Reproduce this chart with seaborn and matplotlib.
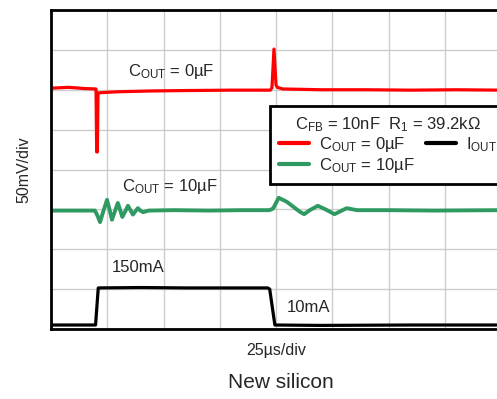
import pandas as pd
import matplotlib
matplotlib.use('Agg')
import matplotlib.pyplot as plt
import seaborn as sns

sns.set_style('whitegrid')
plt.rcParams['font.family'] = ['Liberation Sans', 'DejaVu Sans']
plt.rcParams['mathtext.fontset'] = 'custom'
plt.rcParams['mathtext.rm'] = 'Liberation Sans'
plt.rcParams['mathtext.it'] = 'Liberation Sans:italic'

# time in us (25us/div), traces in scope divisions
red_t = [0, 8, 15, 20.0, 20.3, 20.6, 20.9, 23, 30, 45, 60, 80, 97.5, 98.2,
         99.1, 100.0, 100.6, 103, 120, 140, 160, 180, 200]
red_v = [6.04, 6.06, 6.03, 6.02, 4.44, 4.44, 5.92, 5.93, 5.95, 5.97, 5.98,
         5.99, 5.99, 6.05, 7.02, 6.12, 6.06, 6.02, 6.0, 6.0, 5.99, 6.0, 5.99]

green_t = [0, 10, 19.5, 20.6, 21.8, 23.3, 24.9, 26.0, 27.1, 28.4, 29.7, 30.7,
           31.7, 33.0, 34.2, 35.3, 36.4, 37.5, 38.6, 39.7, 40.9, 43.5, 55, 70,
           85, 97, 98.7, 101.2, 104.8, 107.6, 110.6, 112.5, 115.0, 118.6,
           122.0, 126.0, 131.4, 136, 150, 170, 200]
green_v = [2.97, 2.97, 2.97, 2.85, 2.68, 2.96, 3.24, 3.00, 2.74, 2.95, 3.16,
           2.99, 2.81, 2.95, 3.09, 2.98, 2.87, 2.95, 3.03, 2.97, 2.93, 2.97,
           2.98, 2.97, 2.98, 2.98, 3.02, 3.29, 3.19, 3.07, 2.94, 2.88, 2.98,
           3.09, 3.0, 2.88, 3.03, 2.98, 2.98, 2.97, 2.98]

black_t = [0, 19.8, 21.0, 40, 60, 80, 96.3, 97.2, 99.5, 120, 160, 200]
black_v = [0.10, 0.10, 1.03, 1.04, 1.03, 1.03, 1.03, 1.0, 0.10, 0.09, 0.10, 0.10]

labels = [r'C$_\mathrm{OUT}$ = 0µF', r'C$_\mathrm{OUT}$ = 10µF', r'I$_\mathrm{OUT}$']
colors = ['#ff0000', '#2e9a62', '#000000']
widths = [2.3, 2.8, 2.3]

fig = plt.figure(figsize=(4.97, 3.99), dpi=100)
ax = fig.add_axes([51 / 497, 70 / 399, 450 / 497, 319 / 399])

traces = [(red_t, red_v), (green_t, green_v), (black_t, black_v)]
for (t, v), lab, col, w in zip(traces, labels, colors, widths):
    df = pd.DataFrame({'t': t, 'v': v})
    sns.lineplot(data=df, x='t', y='v', color=col, lw=w, label=lab,
                 sort=False, estimator=None, ax=ax)

ax.set_xlim(0, 200)
ax.set_ylim(0, 8)
ax.set_xticks(range(0, 201, 25))
ax.set_yticks(range(0, 9))
ax.tick_params(length=0, labelbottom=False, labelleft=False)
ax.grid(True, color='#cccccc', lw=1)
for side in ['top', 'left', 'bottom', 'right']:
    ax.spines[side].set_color('black')
    ax.spines[side].set_linewidth(2)

ax.set_xlabel('25µs/div', fontsize=11.5)
ax.set_ylabel('50mV/div', fontsize=11.5)
ax.xaxis.set_label_coords(0.5, -0.045)
ax.yaxis.set_label_coords(-0.043, 0.5)

ax.text(34.0, 6.47, r'C$_\mathrm{OUT}$ = 0µF', fontsize=12, va='center')
ax.text(31.5, 3.58, r'C$_\mathrm{OUT}$ = 10µF', fontsize=12, va='center')
ax.text(27.1, 1.53, '150mA', fontsize=12, va='center')
ax.text(104.8, 0.55, '10mA', fontsize=12, va='center')

# legend box runs off the right edge of the picture
leg = ax.legend(title=r'C$_\mathrm{FB}$ = 10nF  R$_1$ = 39.2kΩ', ncol=2,
                loc='upper left', mode='expand',
                bbox_to_anchor=(270 / 497, 1 - 184 / 399, 236 / 497, 78 / 399),
                bbox_transform=fig.transFigure, borderaxespad=0,
                fontsize=12, title_fontsize=12, handlelength=1.8,
                handletextpad=0.6, columnspacing=0.0, borderpad=0.55,
                labelspacing=0.08, fancybox=False, framealpha=1,
                edgecolor='black')
leg.get_frame().set_linewidth(2)
for line in leg.get_lines():
    line.set_linewidth(3)

fig.text(281 / 497, 1 - 383 / 399, 'New silicon', fontsize=15,
         ha='center', va='center')

fig.savefig('out.png', dpi=100)
